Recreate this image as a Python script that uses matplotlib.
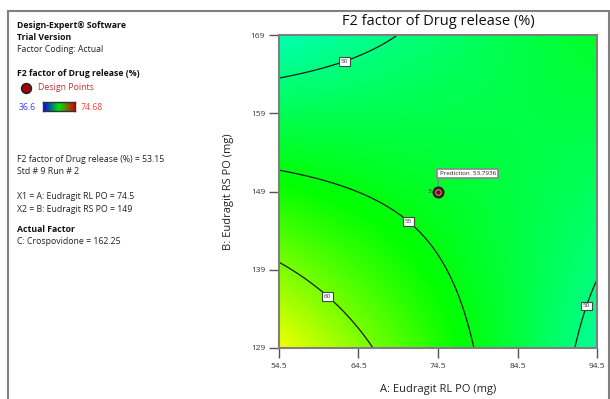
import numpy as np
import matplotlib
matplotlib.use("Agg")
import matplotlib.pyplot as plt
from matplotlib.colors import LinearSegmentedColormap, Normalize
from matplotlib.patches import Rectangle

plt.rcParams['font.family'] = ['Open Sans', 'DejaVu Sans']

# ---- data ----
title = "F2 factor of Drug release (%)"
x_label = "A: Eudragit RL PO (mg)"
y_label = "B: Eudragit RS PO (mg)"
x_ticks = [54.5, 64.5, 74.5, 84.5, 94.5]
y_ticks = [129, 139, 149, 159, 169]
x_center, x_half = 74.5, 20.0
y_center, y_half = 149.0, 20.0
# fitted response model in coded units: intercept, A, B, AB, A^2, B^2
model_terms = ["b0", "A", "B", "AB", "A2", "B2"]
model_coefs = [53.79, -2.37, -2.99, 5.51, 0.0, 0.0]
contour_levels = [50, 55, 60]
label_positions = [(62.5, 166.3), (71.1, 145.5), (61.0, 136.1), (92.8, 134.5)]
color_min, color_max = 36.6, 74.68
design_point = (74.5, 149)
design_point_count = "3"
prediction_value = 53.7936

W, H = 610, 399
fig = plt.figure(figsize=(W / 100, H / 100), dpi=100)

def fx(px):
    return px / W

def fy(py):
    return 1 - py / H

ax_l, ax_r, ax_t, ax_b = 279, 597, 35, 348
ax = fig.add_axes([fx(ax_l), fy(ax_b), (ax_r - ax_l) / W, (ax_b - ax_t) / H])

# evaluate model on a grid
A = np.linspace(x_ticks[0], x_ticks[-1], 300)
B = np.linspace(y_ticks[0], y_ticks[-1], 300)
AA, BB = np.meshgrid(A, B)
xc = (AA - x_center) / x_half
yc = (BB - y_center) / y_half
c = dict(zip(model_terms, model_coefs))
Z = c["b0"] + c["A"] * xc + c["B"] * yc + c["AB"] * xc * yc + c["A2"] * xc ** 2 + c["B2"] * yc ** 2

cmap = LinearSegmentedColormap.from_list(
    "de", [(0.0, (0, 0, 1)), (0.2, (0, 1, 1)), (0.5, (0, 1, 0)), (0.75, (1, 1, 0)), (1.0, (1, 0, 0))])
ax.imshow(Z, origin="lower", extent=[A[0], A[-1], B[0], B[-1]], aspect="auto",
          cmap=cmap, norm=Normalize(color_min, color_max), interpolation="bilinear")
cs = ax.contour(AA, BB, Z, levels=contour_levels, colors="#1a1a1a", linewidths=0.9)
labels = ax.clabel(cs, inline=False, fmt="%d", fontsize=4.5, manual=label_positions, colors="#333333")
for t in labels:
    t.set_rotation(0)
    t.set_bbox(dict(boxstyle="square,pad=0.3", facecolor="white", edgecolor="#444444", linewidth=0.8))

# design point
ax.plot([design_point[0]], [design_point[1]], "o", ms=7.5, mfc="#7a0000", mec="#222222", mew=1.2, zorder=5)
ax.plot([design_point[0]], [design_point[1]], "o", ms=4, mfc="none", mec="#999999", mew=0.8, zorder=6)
ax.text(design_point[0] - 0.9, design_point[1], design_point_count, fontsize=4.5, color="#333333",
        ha="right", va="center", zorder=6)
ax.plot([design_point[0], design_point[0]], [design_point[1] + 0.8, design_point[1] + 1.8],
        color="#888888", lw=1.2, zorder=4)
ax.text(design_point[0] + 0.2, design_point[1] + 2.3, "Prediction  %.4f" % prediction_value, fontsize=4.5,
        color="#222222", ha="left", va="center", zorder=6,
        bbox=dict(boxstyle="square,pad=0.35", facecolor="white", edgecolor="#888888", linewidth=1.2))

ax.set_xlim(x_ticks[0], x_ticks[-1])
ax.set_ylim(y_ticks[0], y_ticks[-1])
ax.set_xticks(x_ticks)
ax.set_xticklabels([("%g" % v) for v in x_ticks])
ax.set_yticks(y_ticks)
ax.set_yticklabels([str(v) for v in y_ticks])
ax.tick_params(direction="out", length=7, width=1, color="#555555", labelsize=6, labelcolor="#333333")
ax.tick_params(axis="x", pad=4)
ax.tick_params(axis="y", pad=3)
for s in ax.spines.values():
    s.set_color("#808080")
    s.set_linewidth(1.5)

ax.set_title(title, fontsize=10.5, color="#111111", pad=7)
ax.set_xlabel(x_label, fontsize=8, color="#222222", labelpad=10)
ax.set_ylabel(y_label, fontsize=8, color="#222222", labelpad=12)

# outer frame
fig.add_artist(Rectangle((fx(7.5), -0.05), fx(609 - 7.5), fy(10.5) + 0.05, transform=fig.transFigure,
                         facecolor="none", edgecolor="#808080", linewidth=1.5))

# left info panel
tx = fx(17)
fs = 6.3
fig.text(tx, fy(25), "Design-Expert® Software", fontsize=fs, fontweight="bold", va="center", color="#111111")
fig.text(tx, fy(37), "Trial Version", fontsize=fs, fontweight="bold", va="center", color="#111111")
fig.text(tx, fy(49), "Factor Coding: Actual", fontsize=fs, va="center", color="#222222")
fig.text(tx, fy(73), "F2 factor of Drug release (%)", fontsize=fs, fontweight="bold", va="center", color="#111111")
fig.add_artist(matplotlib.lines.Line2D([fx(26)], [fy(88)], marker="o", ms=7, mfc="#aa0000", mec="#222222",
                                       mew=1.2, transform=fig.transFigure))
fig.text(fx(38), fy(88), "Design Points", fontsize=fs, va="center", color="#c03030")
fig.text(fx(19), fy(107), "%g" % color_min, fontsize=fs, va="center", color="#4040ff")
cax = fig.add_axes([fx(43), fy(111), fx(75 - 43), (111 - 102) / H])
grad = np.linspace(0, 1, 100).reshape(1, -1)
cax.imshow(grad, aspect="auto", cmap=LinearSegmentedColormap.from_list("lg", [(0, 0, 1), (0, 0.9, 0), (0.85, 0, 0)]))
cax.set_xticks([])
cax.set_yticks([])
for s in cax.spines.values():
    s.set_color("#333333")
    s.set_linewidth(1)
fig.text(fx(81), fy(107), "%g" % color_max, fontsize=fs, va="center", color="#ff4040")

fig.text(tx, fy(159), "F2 factor of Drug release (%) = 53.15", fontsize=fs, va="center", color="#222222")
fig.text(tx, fy(171), "Std # 9 Run # 2", fontsize=fs, va="center", color="#222222")
fig.text(tx, fy(197), "X1 = A: Eudragit RL PO = 74.5", fontsize=fs, va="center", color="#222222")
fig.text(tx, fy(209), "X2 = B: Eudragit RS PO = 149", fontsize=fs, va="center", color="#222222")
fig.text(tx, fy(230), "Actual Factor", fontsize=fs, fontweight="bold", va="center", color="#111111")
fig.text(tx, fy(242), "C: Crospovidone = 162.25", fontsize=fs, va="center", color="#222222")

fig.savefig("out.png", dpi=100)
